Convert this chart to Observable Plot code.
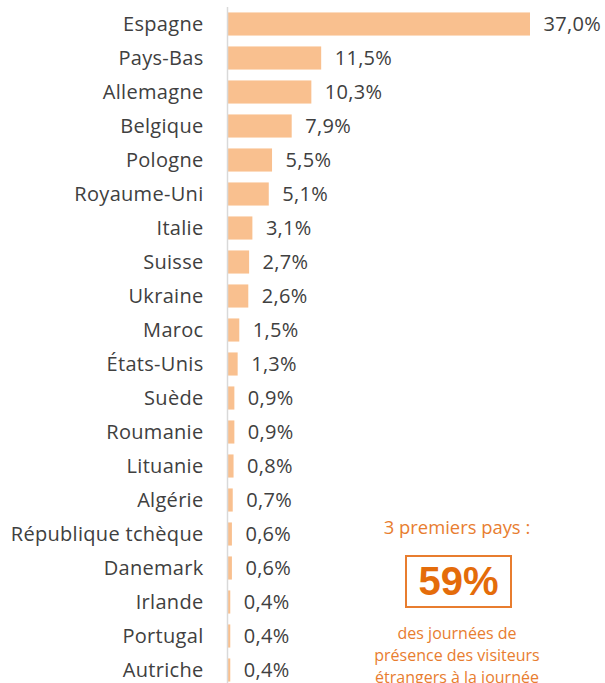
<!DOCTYPE html>
<html><head><meta charset="utf-8">
<script src="https://cdn.jsdelivr.net/npm/d3@7"></script>
<script src="https://cdn.jsdelivr.net/npm/@observablehq/plot@0.6"></script>
<style>
html,body{margin:0;padding:0;background:#fff;}
#wrap{position:relative;width:605px;height:683px;overflow:hidden;}
.ann{position:absolute;font-family:"Open Sans",sans-serif;color:#e87d2f;text-align:center;}
svg text{letter-spacing:0.3px;}
</style>
</head><body>
<div id="wrap"></div>
<script>
const countries = ["Espagne","Pays-Bas","Allemagne","Belgique","Pologne","Royaume-Uni","Italie","Suisse","Ukraine","Maroc","États-Unis","Suède","Roumanie","Lituanie","Algérie","République tchèque","Danemark","Irlande","Portugal","Autriche"];
const shares = [37.0,11.5,10.3,7.9,5.5,5.1,3.1,2.7,2.6,1.5,1.3,0.9,0.9,0.8,0.7,0.6,0.6,0.4,0.4,0.4];
const annTitle = "3 premiers pays :";
const annValue = "59%";
const annText = ["des journées de","présence des visiteurs","étrangers à la journée"];

const data = countries.map((c,i)=>({country:c, value:shares[i]}));
const fmt = v => v.toFixed(1).replace(".", ",") + "%";

const chart = Plot.plot({
  width: 605,
  height: 690,
  marginTop: 7,
  marginBottom: 3,
  marginLeft: 227,
  marginRight: 75,
  style: {fontFamily: "'Open Sans', sans-serif", fontSize: "20px", color: "#404040", background: "#fff"},
  x: {domain: [0, 37], axis: null},
  y: {domain: countries, paddingInner: 0.32, paddingOuter: 0.16, round: false, label: null, tickSize: 0, tickPadding: 24},
  marks: [
    Plot.barX(data, {y: "country", x: "value", fill: "#f9c08f"}),
    Plot.ruleX([0], {stroke: "#d9d9d9", strokeWidth: 1.5}),
    Plot.text(data, {y: "country", x: "value", text: d => fmt(d.value), dx: 13, textAnchor: "start", fill: "#404040", fontSize: 20})
  ]
});
const wrap = document.getElementById("wrap");
wrap.appendChild(chart);

function add(html, css){ const d=document.createElement("div"); d.className="ann"; d.innerHTML=html; Object.assign(d.style, css); wrap.appendChild(d); }
add(annTitle, {left:"357px", top:"514px", width:"200px", fontSize:"18.4px"});
add(annValue, {left:"405px", top:"555px", width:"103px", height:"49px", lineHeight:"49px", border:"2px solid #e87d2f", fontFamily:"'Liberation Sans', Arial, sans-serif", fontWeight:"bold", fontSize:"40px", color:"#e46c0a"});
add(annText.join("<br>"), {left:"340px", top:"622px", width:"234px", fontSize:"16px", lineHeight:"22px"});
</script>
</body></html>
